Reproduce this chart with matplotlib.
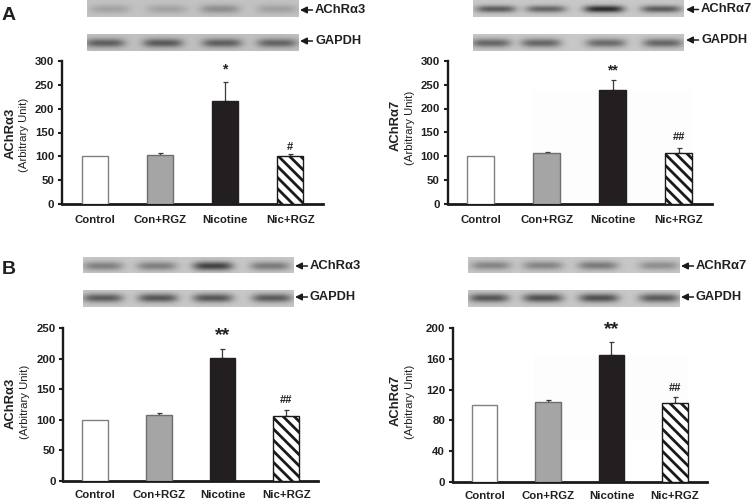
import numpy as np
import matplotlib
matplotlib.use("Agg")
import matplotlib.pyplot as plt

plt.rcParams['font.family'] = ['Liberation Sans', 'DejaVu Sans']
plt.rcParams['hatch.linewidth'] = 2.0

W, H = 752, 504
categories = ['Control', 'Con+RGZ', 'Nicotine', 'Nic+RGZ']

# values
a3_A = [100, 103, 217, 100]
a3_A_err = [0, 5, 38, 4]
a7_A = [100, 106, 238, 107]
a7_A_err = [0, 3, 22, 9]
a3_B = [100, 108, 201, 107]
a3_B_err = [0, 3, 15, 9]
a7_B = [100, 104, 165, 102]
a7_B_err = [0, 3, 17, 8]

a3_ticks_A = [0, 50, 100, 150, 200, 250, 300]
a3_ticks_B = [0, 50, 100, 150, 200, 250]
a7_ticks_B = [0, 40, 80, 120, 160, 200]

fills = ['white', '#a5a5a5', '#231f20', 'white']
edges = ['#808080', '#6e6e6e', '#231f20', '#1a1a1a']

fig = plt.figure(figsize=(W / 100, H / 100), dpi=100, facecolor='white')
ov = fig.add_axes([0, 0, 1, 1], zorder=0)
ov.set_xlim(0, W)
ov.set_ylim(H, 0)
ov.axis('off')


def blot(x0, x1, y0, y1, bg, centers, yc, darks, hw=20, hh=4.4):
    xs = np.arange(x0, x1) + 0.5
    ys = np.arange(y0, y1) + 0.5
    X, Y = np.meshgrid(xs, ys)
    img = np.full(X.shape, float(bg))
    for c, d in zip(centers, darks):
        img -= d * np.exp(-((X - c) / hw) ** 4) * np.exp(-((Y - yc) / hh) ** 2)
    ov.imshow(img, cmap='gray', vmin=0, vmax=1, extent=(x0, x1, y1, y0),
              aspect='auto', interpolation='bilinear')


def blot_label(xa, y, text, size):
    ov.annotate('', xy=(xa, y), xytext=(xa + 12.5, y),
                arrowprops=dict(arrowstyle='-|>,head_width=0.2,head_length=0.4',
                                color='#1a1a1a', lw=1.1, shrinkA=0, shrinkB=0))
    ov.text(xa + 15, y, text, fontsize=size, fontweight='bold', color='#231f20',
            va='center', ha='left')


def panel(px, ymax, ticks, vals, errs, mark, mark_off, ylab, ylab_x, ylab_y,
          sub_x, sub_y, cat_drop, star_size, ghost=None):
    x0, x1, ytop, ybot = px
    ax = fig.add_axes([x0 / W, 1 - ybot / H, (x1 - x0) / W, (ybot - ytop) / H], zorder=2)
    ax.set_xlim(0, 4)
    ax.set_ylim(0, ymax)
    ax.patch.set_alpha(0)
    pos = np.arange(4) + 0.5
    for i in range(4):
        if errs[i] > 0:
            ax.errorbar(pos[i], vals[i], yerr=[[0], [errs[i]]], color='#3a3a3a',
                        elinewidth=0.9, capsize=1.8, capthick=0.9, zorder=2)
        ax.bar(pos[i], vals[i], width=0.4, color=fills[i], edgecolor=edges[i],
               linewidth=1.0, zorder=3, hatch='\\\\\\' if i == 3 else None)
    for sp in ['top', 'right']:
        ax.spines[sp].set_visible(False)
    ax.spines['left'].set_linewidth(1.7)
    ax.spines['bottom'].set_linewidth(2.0)
    ax.spines['left'].set_color('#1a1a1a')
    ax.spines['bottom'].set_color('#1a1a1a')
    ax.set_yticks(ticks)
    ax.tick_params(axis='y', length=3, width=1.5, labelsize=8.2, pad=2.5,
                   colors='#231f20')
    for t in ax.get_yticklabels():
        t.set_fontweight('bold')
    ax.set_xticks(pos)
    ax.set_xticklabels(categories, fontsize=8.2, fontweight='bold', color='#231f20')
    ax.tick_params(axis='x', length=0, pad=cat_drop)
    ax.set_ylabel(ylab, fontsize=9.4, fontweight='bold', color='#231f20', va='center')
    ax.yaxis.set_label_coords((ylab_x - x0) / (x1 - x0), (ybot - ylab_y) / (ybot - ytop))
    ov.text(sub_x, sub_y, '(Arbitrary Unit)', rotation=90, fontsize=8.2,
            color='#231f20', ha='center', va='center')
    for i, m in mark.items():
        size = star_size if '*' in m else 8
        ax.annotate(m, (pos[i], vals[i] + errs[i]), xytext=(0, mark_off[i]),
                    textcoords='offset pixels', ha='center', va='center',
                    fontsize=size, fontweight='bold', color='#231f20')
    if ghost:
        gx0, gx1, gy0, gy1 = ghost
        ov.add_patch(plt.Rectangle((gx0, gy0), gx1 - gx0, gy1 - gy0, color='#fdfdfd',
                                   lw=0, zorder=0))
    return ax


# western-blot strips
blot(87, 299, 0, 17, 0.76, [110, 167, 220, 277], 9, [0.12, 0.12, 0.2, 0.13])
blot(87, 299, 34, 51, 0.75, [105, 163, 222, 277], 43, [0.38, 0.40, 0.38, 0.36])
blot(473, 684, 0, 17, 0.78, [496, 546, 604, 661], 9, [0.42, 0.38, 0.6, 0.42], hh=3.6)
blot(473, 684, 34, 51, 0.78, [491, 541, 606, 663], 43, [0.38, 0.38, 0.36, 0.38])
blot(83, 294, 257, 273, 0.78, [103, 157, 213, 270], 266, [0.28, 0.28, 0.52, 0.3])
blot(83, 294, 290, 307, 0.78, [103, 158, 213, 272], 298, [0.42, 0.44, 0.44, 0.42])
blot(468, 680, 257, 273, 0.78, [491, 543, 598, 659], 265.5, [0.26, 0.26, 0.3, 0.22])
blot(468, 680, 290, 307, 0.78, [489, 543, 599, 659], 298, [0.44, 0.46, 0.46, 0.42])
ov.set_xlim(0, W)
ov.set_ylim(H, 0)

blot_label(300, 10, 'AChRα3', 9.4)
blot_label(300, 41, 'GAPDH', 9.2)
blot_label(686, 9.5, 'AChRα7', 9.4)
blot_label(686, 40, 'GAPDH', 9.2)
blot_label(295, 266, 'AChRα3', 9.4)
blot_label(295, 297, 'GAPDH', 9.2)
blot_label(681, 266, 'AChRα7', 9.4)
blot_label(681, 297, 'GAPDH', 9.2)

ov.text(2, 15, 'A', fontsize=14, fontweight='bold', color='#231f20', va='center')
ov.text(2, 269, 'B', fontsize=14, fontweight='bold', color='#231f20', va='center')

panel((62, 323, 61, 204), 300, a3_ticks_A, a3_A, a3_A_err, {2: '*', 3: '#'},
      {2: 13, 3: 7}, 'AChRα3', 11, 133, 24, 135, 8, 10)
panel((447.5, 711.7, 61, 203.5), 300, a3_ticks_A, a7_A, a7_A_err, {2: '**', 3: '##'},
      {2: 10, 3: 11}, 'AChRα7', 396, 125, 410, 128, 8, 10,
      ghost=(533, 693, 90, 200))
panel((63.3, 318, 328.3, 481), 250, a3_ticks_B, a3_B, a3_B_err, {2: '**', 3: '##'},
      {2: 13, 3: 10}, 'AChRα3', 11, 403, 25, 402, 6.5, 14)
panel((452.7, 706.7, 328.3, 481.7), 200, a7_ticks_B, a7_B, a7_B_err, {2: '**', 3: '##'},
      {2: 13, 3: 9}, 'AChRα7', 396, 400, 410, 402, 6.5, 14,
      ghost=(534, 688, 355, 440))

fig.savefig('out.png', dpi=100)
